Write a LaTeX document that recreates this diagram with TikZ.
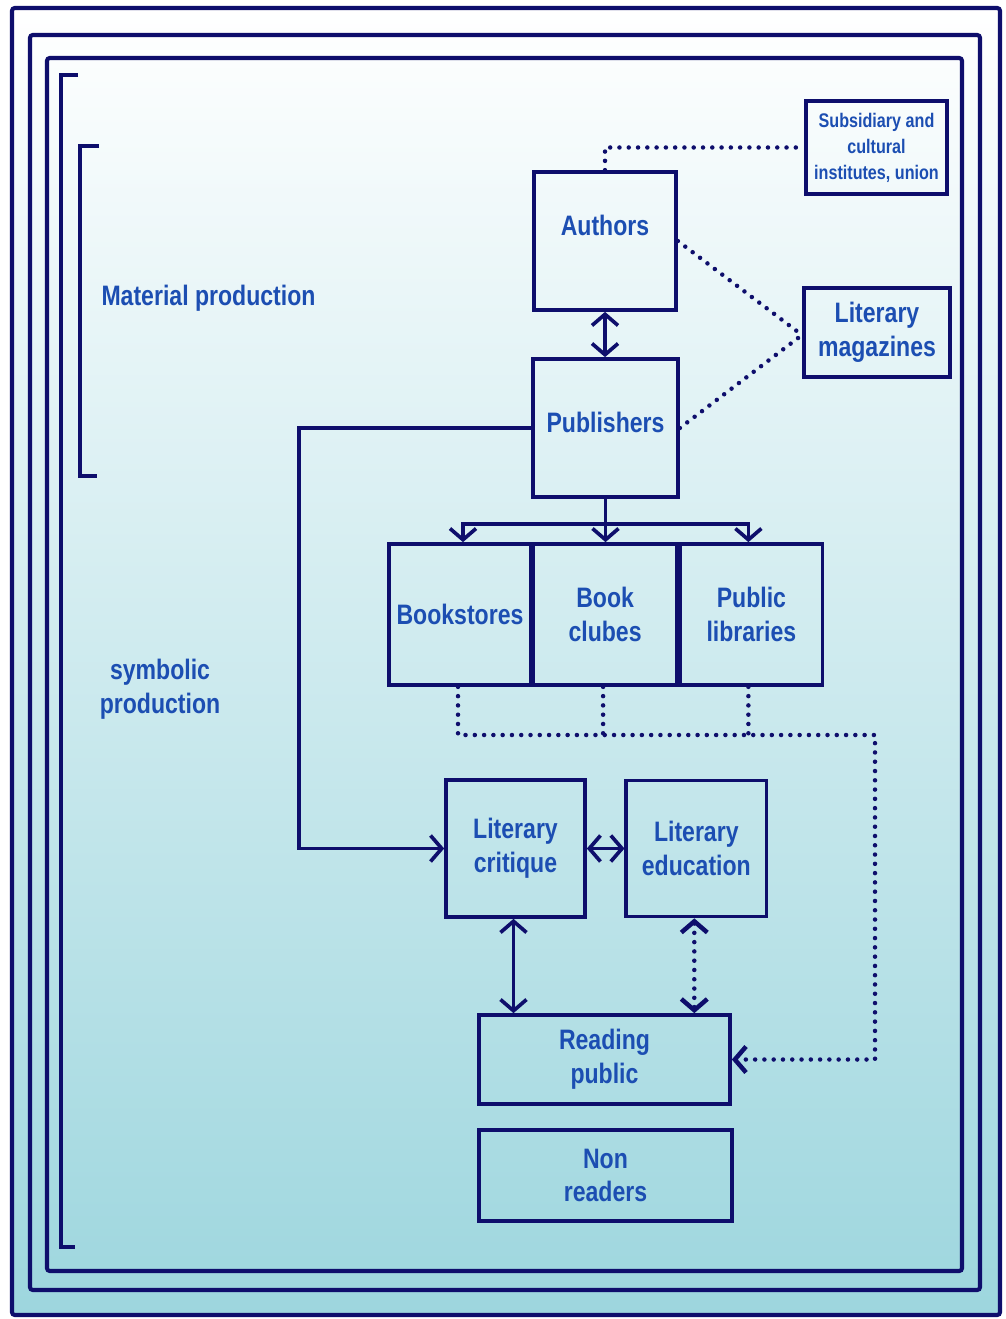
\documentclass[tikz,border=0pt]{standalone}
\usepackage{fontspec}
\setmainfont{Liberation Sans}[FakeStretch=0.82]
\usepackage{xcolor}
\usetikzlibrary{positioning, arrows.meta, calc}
\definecolor{navy}{RGB}{14,14,108}
\definecolor{labelblue}{RGB}{28,78,178}
\definecolor{tealbottom}{RGB}{157,214,222}

\begin{document}
\begin{tikzpicture}[x=0.025cm, y=-0.025cm, line width=2.6pt, draw=navy,
    >={Straight Barb[length=2.8mm, width=6.5mm]},
    box/.style = {draw=navy, rectangle, minimum width=3.55cm, minimum height=3.45cm, align=center, text=labelblue, font=\fontsize{20}{24}\selectfont\bfseries},
    wide/.style = {box, minimum width=6.3cm, minimum height=2.25cm},
    side/.style = {box, minimum width=3.6cm, minimum height=2.25cm},
    caption/.style = {text=labelblue, align=center, font=\fontsize{20}{24}\selectfont\bfseries},
    frame/.style = {line width=2.9pt, rounded corners=2pt},
    dotline/.style = {line width=3.2pt, dash pattern=on 0pt off 6.6pt, line cap=round}]
    \useasboundingbox (0,0) rectangle (1005,1319);
    % Background and frames
    \shade[top color=white, bottom color=tealbottom] (12,8) rectangle (1000,1315);
    \draw[frame] (12,8) rectangle (1000,1315);
    \draw[frame] (30,35) rectangle (980,1290);
    \draw[frame] (47,58) rectangle (962,1271);
    \draw[line width=2.9pt] (78,75) -- (61,75) -- (61,1247) -- (75,1247);
    \draw[line width=2.9pt] (99,146) -- (80,146) -- (80,476) -- (97,476);

    % Captions
    \node[caption, anchor=west] (matprod) at (95,298) {Material production};
    \node[caption] (symprod) at (160,689) {symbolic\\production};

    % Nodes
    \node[side, minimum width=3.525cm, minimum height=2.325cm, font=\fontsize{14}{18.5}\selectfont\bfseries] (subs) at (876.5,147.5) {Subsidiary and\\cultural\\institutes, union};
    \node[box] (authors) at (605,241) {\raisebox{0.8cm}{Authors}};
    \node[side, minimum width=3.65cm, minimum height=2.225cm] (mags) at (877,332.5) {Literary\\magazines};
    \node[box, minimum width=3.625cm] (pubs) at (605.5,428) {\raisebox{0.3cm}{Publishers}};
    \node[box, minimum height=3.525cm] (books) at (460,614.5) {Bookstores};
    \node[box, minimum width=3.6cm, minimum height=3.525cm] (clubs) [right=-0.04cm of books] {Book\\clubes};
    \node[box, minimum height=3.525cm] (libs) [right=-0.01cm of clubs] {Public\\libraries};
    \node[box, minimum width=3.475cm, minimum height=3.425cm] (critique) at (515.5,848.5) {Literary\\critique};
    \node[box, minimum width=3.5cm, minimum height=3.4cm] (education) [right=0.94cm of critique] {Literary\\education};
    \node[wide, minimum width=6.275cm, minimum height=2.225cm] (reading) at (604.5,1059.5) {Reading\\public};
    \node[wide, minimum width=6.325cm, minimum height=2.275cm] (nonread) at (605.5,1175.5) {Non\\readers};

    % Helper points
    \coordinate (split) at ($(pubs.south)+(0,25)$);
    \coordinate (leftx) at (299,640);
    \coordinate (bus) at (875,735);
    \coordinate (magsin) at (802,335);

    % Lines
    \draw[dotline] (authors.north) |- (subs.west);
    \draw[dotline] (authors.east) -- (magsin);
    \draw[dotline] (pubs.east) -- (magsin);
    \draw[<->] (authors.south) -- (authors.south |- pubs.north);
    \draw[->] (pubs.west) -- (pubs.west -| leftx) |- (critique.west);
    \draw (pubs.south) -- (split);
    \draw[->] (split) -| ($(books.north)+(3,0)$);
    \draw[->] (split) -- (split |- clubs.north);
    \draw[->] (split) -| ($(libs.north)+(-3,0)$);
    \draw[dotline, ->] ($(books.south)+(-2,0)$) |- (bus) |- (reading.east);
    \draw[dotline] ($(clubs.south)+(-2,0)$) -- ($(clubs.south |- bus)+(-2,0)$);
    \draw[dotline] ($(libs.south)+(-3,0)$) -- ($(libs.south |- bus)+(-3,0)$);
    \draw[<->] (critique.east) -- (critique.east -| education.west);
    \draw[<->] ($(critique.south)+(-2,0)$) -- ($(critique.south |- reading.north)+(-2,0)$);
    \draw[dotline, <->] ($(education.south)+(-2,0)$) -- ($(education.south |- reading.north)+(-2,0)$);
\end{tikzpicture}
\end{document}
